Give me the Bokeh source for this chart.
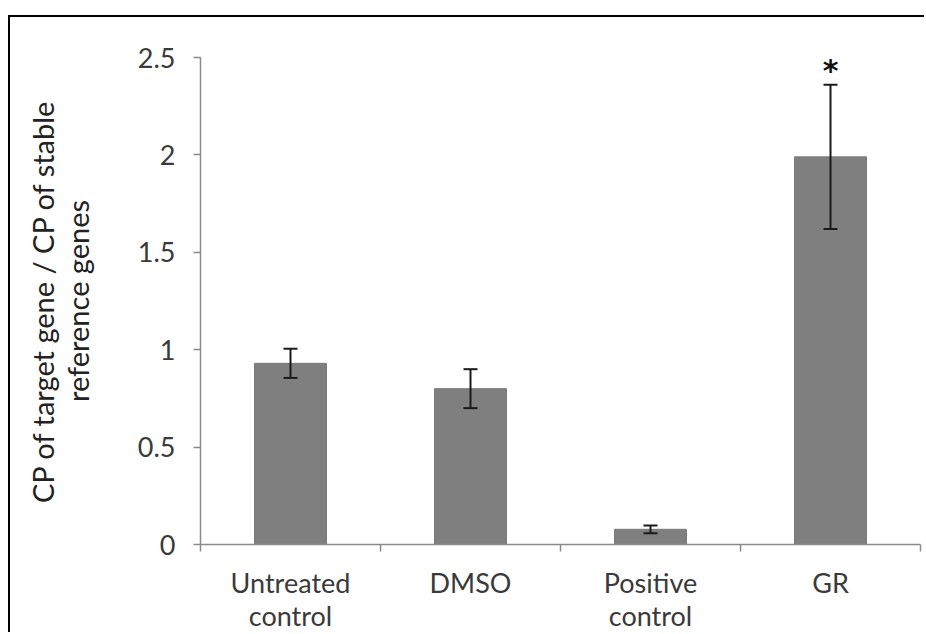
from bokeh.plotting import figure
from bokeh.models import FixedTicker, ColumnDataSource, Whisker, TeeHead, Range1d
from bokeh.core.properties import value
from bokeh.embed import file_html
from bokeh.resources import INLINE

categories = ["Untreated\ncontrol", "DMSO", "Positive\ncontrol", "GR"]
means = [0.93, 0.80, 0.078, 1.99]
errors = [0.075, 0.10, 0.02, 0.37]
significant = ["", "", "", "*"]
y_ticks = [0, 0.5, 1, 1.5, 2, 2.5]
y_tick_labels = ["0", "0.5", "1", "1.5", "2", "2.5"]
y_label = "CP of target gene / CP of stable\nreference genes"

FONT = "Lato"
TXT = "#3a3a3a"

xs = [i + 0.5 for i in range(len(categories))]
src = ColumnDataSource(dict(
    x=xs, top=means,
    upper=[m + e for m, e in zip(means, errors)],
    lower=[m - e for m, e in zip(means, errors)],
    star=significant,
))

p = figure(width=916, height=617, output_backend="svg", toolbar_location=None,
           x_range=Range1d(0, len(categories)), y_range=Range1d(0, 2.5),
           min_border_left=190, min_border_top=40, min_border_right=6, min_border_bottom=85)
p.margin = (15, 0, 0, 8)
p.styles = {"border-top": "2px solid #000", "border-left": "2px solid #000"}
p.outline_line_color = None
p.grid.visible = False

p.vbar(x="x", top="top", width=0.4, bottom=0, source=src,
       fill_color="#7f7f7f", line_color="#7a7a7a", line_width=1)

w = Whisker(base="x", upper="upper", lower="lower", source=src, level="overlay",
            line_color="#1a1a1a", line_width=2,
            upper_head=TeeHead(size=14, line_color="#1a1a1a", line_width=2),
            lower_head=TeeHead(size=14, line_color="#1a1a1a", line_width=2))
p.add_layout(w)

p.text(x="x", y="upper", text="star", source=src, text_align="center",
       text_baseline="alphabetic", y_offset=-14, text_font=value("DejaVu Sans"),
       text_font_size="30px", text_font_style="bold", text_color="#111111")

# x axis
p.xaxis.ticker = FixedTicker(ticks=xs, minor_ticks=list(range(len(categories) + 1)))
p.xaxis.major_label_overrides = {x: c for x, c in zip(xs, categories)}
p.xaxis.major_tick_out = 0
p.xaxis.major_tick_in = 0
p.xaxis.minor_tick_out = 7
p.xaxis.minor_tick_in = 0
p.xaxis.minor_tick_line_color = "#8a8a8a"
p.xaxis.minor_tick_line_width = 1.5
p.xaxis.axis_line_color = "#8a8a8a"
p.xaxis.axis_line_width = 1.5
p.xaxis.major_label_text_font = FONT
p.xaxis.major_label_text_font_size = "27px"
p.xaxis.major_label_text_line_height = 1.0
p.xaxis.major_label_text_color = TXT
p.xaxis.major_label_standoff = 14

# y axis
p.yaxis.ticker = FixedTicker(ticks=y_ticks, minor_ticks=[])
p.yaxis.major_label_overrides = {t: l for t, l in zip(y_ticks, y_tick_labels)}
p.yaxis.major_tick_out = 7
p.yaxis.major_tick_in = 0
p.yaxis.major_tick_line_color = "#8a8a8a"
p.yaxis.major_tick_line_width = 1.5
p.yaxis.axis_line_color = "#8a8a8a"
p.yaxis.axis_line_width = 1.5
p.yaxis.major_label_text_font = FONT
p.yaxis.major_label_text_font_size = "27px"
p.yaxis.major_label_text_color = TXT
p.yaxis.major_label_standoff = 18
p.yaxis.axis_label = y_label
p.yaxis.axis_label_text_font = FONT
p.yaxis.axis_label_text_font_size = "29px"
p.yaxis.axis_label_text_font_style = "normal"
p.yaxis.axis_label_text_line_height = 1.0
p.yaxis.axis_label_text_color = "#222222"
p.yaxis.axis_label_text_align = "center"
p.yaxis.axis_label_standoff = 40

open("out.html", "w").write(file_html(p, INLINE))
